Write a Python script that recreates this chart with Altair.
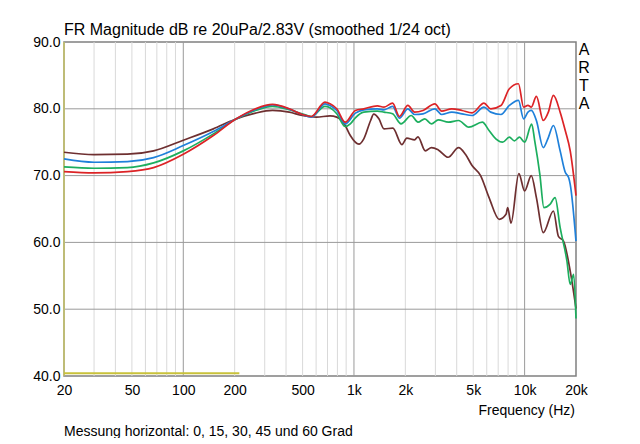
import altair as alt
import pandas as pd

# ---------------- data ----------------
series_names = ["0 Grad", "15 Grad", "30 Grad", "45 Grad"]
series_colors = ["#dc2326", "#1f80da", "#1cae5e", "#6e2f30"]

freq_red = [20, 30, 47, 67, 100, 150, 200, 265, 333, 418, 498, 563, 676, 724, 793, 889,
            1019, 1142, 1372, 1500, 1684, 1846, 2070, 2266, 2541, 2980, 3266, 3742, 4294,
            4920, 5780, 6330, 7270, 8140, 9200, 9860, 10460, 10940, 11720, 12860, 13770,
            14740, 16150, 17300, 18500, 20000]
db_red = [70.6, 70.4, 70.6, 71.2, 73.2, 76.0, 78.35, 80.0, 80.65, 80.0, 79.15, 78.85, 81.0,
          80.75, 80.0, 78.0, 79.75, 80.0, 80.45, 80.25, 80.85, 78.85, 80.5, 79.5, 79.75,
          80.75, 79.65, 80.0, 79.75, 79.4, 80.85, 80.0, 80.5, 83.0, 83.75, 80.25, 80.5,
          80.25, 81.85, 78.25, 79.5, 82.0, 79.5, 76.75, 73.7, 67.0]

freq_blue = [20, 30, 47, 67, 100, 150, 200, 265, 333, 418, 498, 563, 676, 724, 793, 889,
             1019, 1142, 1372, 1500, 1684, 1846, 2070, 2266, 2541, 2980, 3266, 3742, 4294,
             4920, 5780, 6330, 7270, 8140, 9200, 9860, 10460, 10940, 11720, 12860, 13770,
             14740, 16150, 17300, 18100, 18500, 20000]
db_blue = [72.5, 72.0, 72.1, 72.7, 74.5, 76.6, 78.35, 79.9, 80.6, 79.95, 79.15, 78.75,
           80.75, 80.5, 79.75, 77.75, 79.35, 79.85, 80.0, 79.85, 80.35, 78.6, 80.0, 79.15,
           79.25, 80.0, 79.15, 79.5, 79.25, 79.0, 80.25, 79.5, 79.15, 80.5, 81.25, 78.5,
           79.5, 79.75, 78.25, 74.2, 75.7, 77.5, 73.7, 70.5, 69.7, 68.7, 60.2]

freq_green = [20, 30, 47, 67, 100, 150, 200, 265, 333, 418, 498, 563, 676, 724, 793, 889,
              952, 1019, 1142, 1372, 1500, 1684, 1888, 2166, 2372, 2600, 2846, 3120, 3580,
              4100, 4708, 5650, 6190, 6780, 7430, 8140, 8710, 9330, 10000, 11000, 11460,
              12280, 12970, 14080, 15080, 16150, 17700, 18500, 19380, 20000]
db_green = [71.3, 71.1, 71.2, 71.9, 73.7, 76.25, 78.35, 79.75, 80.35, 79.85, 79.25, 78.85,
            80.35, 80.15, 79.25, 77.35, 77.75, 78.65, 79.5, 79.65, 79.5, 79.25, 77.75, 79.0,
            78.0, 78.5, 77.75, 78.35, 78.0, 78.25, 77.25, 78.0, 76.75, 75.5, 75.0, 75.75,
            75.2, 75.75, 75.0, 77.7, 75.2, 70.2, 65.2, 65.7, 66.7, 62.2, 57.2, 53.7, 55.2, 48.6]

freq_brown = [20, 30, 47, 67, 100, 150, 200, 265, 333, 418, 498, 603, 724, 793, 889, 952,
              1070, 1142, 1252, 1305, 1400, 1500, 1690, 1910, 2040, 2266, 2372, 2620, 2846,
              3120, 3560, 4100, 4500, 4920, 5520, 6190, 7100, 7780, 7960, 8320, 9250, 10000,
              10940, 11720, 12860, 14740, 15780, 16900, 18500, 20000]
db_brown = [73.5, 73.15, 73.2, 73.7, 75.3, 77.0, 78.4, 79.35, 79.75, 79.5, 79.0, 78.75,
            78.95, 78.75, 77.5, 76.0, 74.7, 75.5, 78.25, 79.2, 78.5, 77.0, 77.1, 74.65, 75.6,
            75.35, 75.8, 73.7, 74.2, 73.85, 72.75, 74.2, 73.2, 71.5, 70.0, 66.7, 63.45, 64.2,
            65.2, 62.9, 70.3, 67.7, 70.0, 66.7, 61.45, 64.7, 60.9, 60.2, 55.7, 50.1]

freq_yellow = [20, 213]
db_yellow = [40.4, 40.4]

x_ticks = [20, 50, 100, 200, 500, 1000, 2000, 5000, 10000, 20000]
y_ticks = [40, 50, 60, 70, 80, 90]
minor_grid = [30, 40, 50, 60, 70, 80, 90, 200, 300, 400, 500, 600, 700, 800, 900,
              2000, 3000, 4000, 5000, 6000, 7000, 8000, 9000]
major_grid = [100, 1000, 10000]
db_grid = [50, 60, 70, 80]

title_text = "FR Magnitude dB re 20uPa/2.83V (smoothed 1/24 oct)"
xlabel_text = "Frequency (Hz)"
caption_text = "Messung horizontal: 0, 15, 30, 45 und 60 Grad"
brand_text = "A\nR\nT\nA"

# ---------------- chart ----------------
FONT = "Liberation Sans"
xscale = alt.Scale(type="log", domain=[20, 20000], nice=False)
yscale = alt.Scale(domain=[40, 90], nice=False, zero=False)

xaxis = alt.Axis(values=x_ticks, title=None, grid=False, ticks=False, tickSize=0, domain=False,
                 labelFlush=False, labelOverlap=False, labelBound=False, labelPadding=7,
                 labelFont=FONT, labelFontSize=14, labelColor="#000000",
                 labelExpr="datum.value >= 1000 ? format(datum.value / 1000, 'd') + 'k' : format(datum.value, 'd')")
yaxis = alt.Axis(values=y_ticks, title=None, grid=False, ticks=False, tickSize=0, domain=False,
                 format=".1f", labelPadding=4, labelFont=FONT, labelFontSize=14,
                 labelColor="#000000", labelFlush=False, labelOverlap=False, labelBound=False)

minor_df = pd.DataFrame({"f": minor_grid})
major_df = pd.DataFrame({"f": major_grid})
dbg_df = pd.DataFrame({"db": db_grid})

minor_rules = alt.Chart(minor_df).mark_rule(color="#d9d9d9", strokeWidth=1).encode(
    x=alt.X("f:Q", scale=xscale, axis=xaxis))
major_rules = alt.Chart(major_df).mark_rule(color="#9a9a9a", strokeWidth=1).encode(
    x=alt.X("f:Q", scale=xscale, axis=xaxis))
db_rules = alt.Chart(dbg_df).mark_rule(color="#9a9a9a", strokeWidth=1).encode(
    y=alt.Y("db:Q", scale=yscale, axis=yaxis))
left_edge = alt.Chart(pd.DataFrame({"f": [20]})).mark_rule(color="#c9c66a", strokeWidth=1.5).encode(
    x=alt.X("f:Q", scale=xscale, axis=xaxis))

yellow = alt.Chart(pd.DataFrame({"f": freq_yellow, "db": db_yellow})).mark_line(
    color="#c9c23a", strokeWidth=2).encode(
    x=alt.X("f:Q", scale=xscale, axis=xaxis), y=alt.Y("db:Q", scale=yscale, axis=yaxis))

curves = []
all_f = [freq_brown, freq_green, freq_blue, freq_red]
all_db = [db_brown, db_green, db_blue, db_red]
order = [3, 2, 1, 0]
for k, idx in enumerate(order):
    df = pd.DataFrame({"f": all_f[k], "db": all_db[k], "s": series_names[idx]})
    curves.append(
        alt.Chart(df).mark_line(color=series_colors[idx], strokeWidth=1.7, interpolate="monotone").encode(
            x=alt.X("f:Q", scale=xscale, axis=xaxis),
            y=alt.Y("db:Q", scale=yscale, axis=yaxis)))

dummy = pd.DataFrame({"a": [0]})
title = alt.Chart(dummy).mark_text(text=title_text, align="left", baseline="middle", font=FONT,
                                   fontSize=16, color="#000000").encode(x=alt.value(0), y=alt.value(-12))
brand = alt.Chart(dummy).mark_text(text=brand_text, lineBreak="\n", lineHeight=18, align="center",
                                   baseline="middle", font=FONT, fontSize=16, color="#000000").encode(
    x=alt.value(520), y=alt.value(8))
xlabel = alt.Chart(dummy).mark_text(text=xlabel_text, align="right", baseline="middle", font=FONT,
                                    fontSize=14, color="#000000").encode(x=alt.value(511), y=alt.value(369))
caption = alt.Chart(dummy).mark_text(text=caption_text, align="left", baseline="middle", font=FONT,
                                     fontSize=14, color="#000000").encode(x=alt.value(0), y=alt.value(390))

chart = alt.layer(minor_rules, major_rules, db_rules, left_edge, yellow, *curves,
                  title, brand, xlabel, caption).properties(
    width=512, height=334,
    autosize=alt.AutoSizeParams(type="none"),
    padding={"left": 56, "top": 34, "right": 56, "bottom": 62},
    background="#ffffff",
).configure_view(stroke="#808080", strokeWidth=1.5)

chart.save("out.html", embed_options={"renderer": "svg", "actions": False})
